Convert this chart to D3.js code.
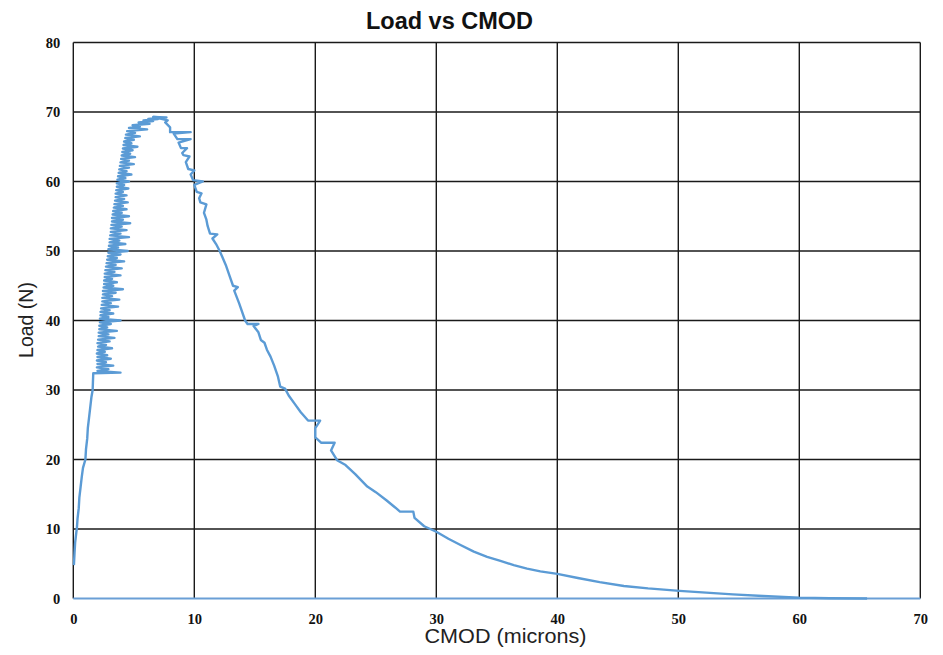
<!DOCTYPE html>
<html>
<head>
<meta charset="utf-8">
<script src="https://cdn.jsdelivr.net/npm/d3@7"></script>
<style>
  html, body { margin: 0; padding: 0; background: #fff; }
  svg { display: block; }
</style>
</head>
<body>
<div id="chart"></div>
<script>
const xTicks = [0, 10, 20, 30, 40, 50, 60, 70];
const yTicks = [0, 10, 20, 30, 40, 50, 60, 70, 80];

// CMOD (microns)
const cmod = [
  0.05,0.1,0.15,0.25,0.3,0.35,0.45,0.5,0.6,0.7,0.8,1.0,1.05,1.15,1.2,1.3,1.4,1.5,1.6,1.62,1.65,
  3.9,2.0,2.9,1.95,3.3,2.0,2.7,1.95,3.1,2.0,2.8,1.95,2.6,2.0,3.2,2.05,2.7,2.0,3.0,2.05,
  3.4,2.1,2.9,2.1,3.6,2.15,2.8,2.15,3.1,2.2,3.9,2.2,2.9,2.25,3.3,2.25,3.0,2.3,3.7,2.35,
  3.1,2.4,3.8,2.4,3.2,2.45,3.5,2.45,4.1,2.5,3.3,2.55,3.6,2.55,3.2,2.6,3.9,2.6,3.4,2.65,
  4.0,2.7,3.5,2.75,4.2,2.8,3.6,2.85,3.9,2.9,4.5,2.9,3.7,2.95,4.3,3.0,3.8,3.0,4.6,3.05,
  3.9,3.1,4.4,3.1,4.0,3.15,4.7,3.2,4.1,3.2,4.6,3.25,4.0,3.3,4.4,3.35,4.1,3.4,4.5,3.45,
  4.2,3.5,4.4,3.5,4.1,3.55,4.55,3.6,4.2,3.6,4.6,3.65,4.3,3.7,4.8,3.75,4.4,3.8,4.6,3.85,
  5.0,3.9,4.6,3.95,5.1,4.0,4.7,4.05,4.9,4.1,5.3,4.15,4.8,4.2,5.0,4.3,5.5,4.35,5.1,4.45,
  6.1,4.6,5.5,4.9,6.3,5.4,6.6,5.8,7.0,6.2,7.4,6.6,7.7,7.1,7.8,7.6,8.0,
  8.0,9.7,8.3,8.6,9.7,8.7,8.9,9.4,9.0,9.1,9.6,9.3,9.5,10.0,9.7,9.9,10.7,10.0,10.2,10.6,10.4,10.5,11.0,10.8,11.0,11.1,
  11.3,11.9,11.5,11.8,12.1,12.3,12.6,12.9,13.2,13.6,13.3,13.7,14.2,14.4,15.3,14.9,15.3,15.5,15.8,16.0,16.3,16.6,16.9,
  17.1,17.5,17.8,18.3,18.8,19.4,20.4,20.0,20.0,20.5,21.6,21.3,21.8,22.5,23.3,24.3,25.0,25.9,26.6,27.0,28.1,28.2,29.0,
  30.0,31.0,32.0,33.1,34.2,35.3,36.4,37.5,38.6,40.0,41.7,43.5,45.5,47.5,50.1,52.3,54.5,57.0,60.0,62.5,65.6
];
// Load (N)
const load = [
  4.8,6.5,8.0,9.5,10.2,11.5,13.0,14.5,16.0,17.5,18.8,20.0,21.5,23.0,24.5,26.0,27.5,29.0,30.0,31.0,32.4,
  32.5,32.75,33.0,33.25,33.5,33.75,34.0,34.25,34.5,34.75,35.0,35.25,35.5,35.75,36.0,36.25,36.5,36.75,37.0,37.25,
  37.5,37.75,38.0,38.25,38.5,38.75,39.0,39.25,39.5,39.75,40.0,40.25,40.5,40.75,41.0,41.25,41.5,41.75,42.0,42.25,
  42.5,42.75,43.0,43.25,43.5,43.75,44.0,44.25,44.5,44.75,45.0,45.25,45.5,45.75,46.0,46.25,46.5,46.75,47.0,47.25,
  47.5,47.75,48.0,48.25,48.5,48.75,49.0,49.25,49.5,49.75,50.0,50.25,50.5,50.75,51.0,51.25,51.5,51.75,52.0,52.25,
  52.5,52.75,53.0,53.25,53.5,53.75,54.0,54.25,54.5,54.75,55.0,55.25,55.5,55.75,56.0,56.25,56.5,56.75,57.0,57.25,
  57.5,57.75,58.0,58.25,58.5,58.75,59.0,59.25,59.5,59.75,60.0,60.25,60.5,60.75,61.0,61.25,61.5,61.75,62.0,62.25,
  62.5,62.75,63.0,63.25,63.5,63.75,64.0,64.25,64.5,64.75,65.0,65.25,65.5,65.75,66.0,66.25,66.5,66.75,67.0,67.25,
  67.5,67.7,67.9,68.1,68.3,68.5,68.7,68.8,69.0,69.0,69.2,69.3,69.2,69.1,68.8,68.5,67.8,
  67.1,67.1,66.9,66.1,66.1,65.6,64.8,64.8,64.1,63.8,63.6,62.8,61.8,61.6,61.0,60.2,60.0,59.5,58.5,58.3,57.6,57.0,56.7,55.5,54.5,53.6,
  52.5,52.4,51.8,51.0,50.0,49.2,48.0,46.5,45.0,44.8,44.3,42.5,40.0,39.5,39.5,39.2,38.3,37.2,36.8,35.8,34.8,33.5,32.0,
  30.5,30.2,29.2,28.0,26.8,25.6,25.6,24.5,23.2,22.4,22.4,21.3,19.9,19.2,17.9,16.1,15.3,14.1,13.1,12.5,12.5,11.6,10.4,
  9.6,8.6,7.7,6.75,6.0,5.4,4.8,4.3,3.9,3.55,2.95,2.35,1.8,1.45,1.1,0.85,0.6,0.35,0.12,0.04,0.0
];

(function () {
  const W = 943, H = 655;
  const mLeft = 73.3, mRight = 920.3, mTop = 42.5, mBottom = 598.5;

  const svg = d3.select("#chart").append("svg").attr("width", W).attr("height", H);

  const x = d3.scaleLinear().domain([0, 70]).range([mLeft, mRight]);
  const y = d3.scaleLinear().domain([0, 80]).range([mBottom, mTop]);

  // grid
  const grid = svg.append("g");
  grid.selectAll("line.h").data(yTicks.filter(d => d > 0)).join("line").attr("class", "h")
    .attr("x1", mLeft).attr("x2", mRight)
    .attr("y1", d => y(d)).attr("y2", d => y(d))
    .attr("stroke", "#1a1a1a").attr("stroke-width", 1.4);
  grid.selectAll("line.v").data(xTicks).join("line").attr("class", "v")
    .attr("x1", d => x(d)).attr("x2", d => x(d))
    .attr("y1", mTop).attr("y2", mBottom)
    .attr("stroke", "#1a1a1a").attr("stroke-width", 1.4);

  // y tick labels
  const yAxis = d3.axisLeft(y).tickValues(yTicks).tickSize(0).tickPadding(13);
  const gy = svg.append("g").attr("transform", `translate(${mLeft},0)`).call(yAxis);
  gy.select(".domain").remove();
  gy.selectAll("text").attr("font-family", "'Liberation Serif','Times New Roman',serif")
    .attr("font-weight", "bold").attr("font-size", 14.5).attr("fill", "#111");

  // x tick labels
  const xAxis = d3.axisBottom(x).tickValues(xTicks).tickSize(0).tickPadding(15);
  const gx = svg.append("g").attr("transform", `translate(0,${mBottom})`).call(xAxis);
  gx.select(".domain").remove();
  gx.selectAll("text").attr("font-family", "'Liberation Serif','Times New Roman',serif")
    .attr("font-weight", "bold").attr("font-size", 14.5).attr("fill", "#111");

  // bottom axis line (blue)
  svg.append("line").attr("x1", mLeft).attr("x2", mRight)
    .attr("y1", y(0)).attr("y2", y(0))
    .attr("stroke", "#6a9fd6").attr("stroke-width", 1.8);

  // data line
  const pts = cmod.map((c, i) => [c, load[i]]);
  const line = d3.line().x(d => x(d[0])).y(d => y(d[1]));
  svg.append("path").datum(pts).attr("d", line)
    .attr("fill", "none").attr("stroke", "#5b9bd5").attr("stroke-width", 2.4)
    .attr("stroke-linejoin", "round");

  // title
  svg.append("text").attr("x", 449.5).attr("y", 29).attr("text-anchor", "middle")
    .attr("font-family", "'Liberation Sans',Arial,sans-serif").attr("font-weight", "bold")
    .attr("font-size", 23.5).attr("fill", "#111").text("Load vs CMOD");

  // axis titles
  svg.append("text").attr("x", 505.5).attr("y", 643).attr("text-anchor", "middle")
    .attr("font-family", "'Liberation Sans',Arial,sans-serif")
    .attr("font-size", 19.5).attr("fill", "#222")
    .attr("textLength", 162).attr("lengthAdjust", "spacingAndGlyphs")
    .text("CMOD (microns)");
  svg.append("text").attr("transform", "translate(33,320) rotate(-90)").attr("text-anchor", "middle")
    .attr("font-family", "'Liberation Sans',Arial,sans-serif")
    .attr("font-size", 19.5).attr("fill", "#222").text("Load (N)");
})();
</script>
</body>
</html>
